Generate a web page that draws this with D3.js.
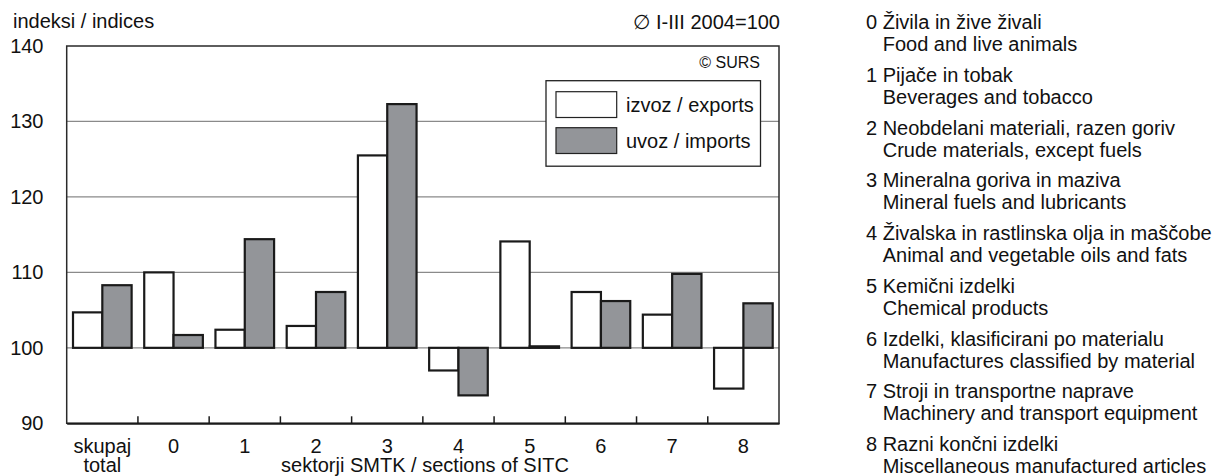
<!DOCTYPE html>
<meta charset="utf-8">
<style>
body { margin: 0; background: #fff; }
svg text { font-family: "Liberation Sans", Arial, sans-serif; fill: #111; }
</style>
<body>
<svg id="chart" width="1217" height="476"></svg>
<script src="https://d3js.org/d3.v7.min.js"></script>
<script>
var categories = ["skupaj|total", "0", "1", "2", "3", "4", "5", "6", "7", "8"];
var exportsIdx = [104.7, 110.0, 102.4, 102.9, 125.5, 97.0, 114.1, 107.4, 104.4, 94.6];
var importsIdx = [108.3, 101.7, 114.4, 107.4, 132.3, 93.7, 100.2, 106.2, 109.8, 105.9];
var seriesNames = ["izvoz / exports", "uvoz / imports"];
var yTicks = [90, 100, 110, 120, 130, 140];
var sections = [
  ["0 Živila in žive živali", "Food and live animals"],
  ["1 Pijače in tobak", "Beverages and tobacco"],
  ["2 Neobdelani materiali, razen goriv", "Crude materials, except fuels"],
  ["3 Mineralna goriva in maziva", "Mineral fuels and lubricants"],
  ["4 Živalska in rastlinska olja in maščobe", "Animal and vegetable oils and fats"],
  ["5 Kemični izdelki", "Chemical products"],
  ["6 Izdelki, klasificirani po materialu", "Manufactures classified by material"],
  ["7 Stroji in transportne naprave", "Machinery and transport equipment"],
  ["8 Razni končni izdelki", "Miscellaneous manufactured articles"]
];

var fills = ["#ffffff", "#939599"];
var fontSize = 20;

// plot box in page pixels
var box = {left: 66.7, right: 779, top: 46, bottom: 423.3};

var svg = d3.select("#chart");

var y = d3.scaleLinear().domain([90, 140]).range([box.bottom, box.top]);
var x0 = d3.scaleBand().domain(categories).range([box.left, box.right]);
var x1 = d3.scaleBand().domain(seriesNames).range([6.3, x0.bandwidth() - 6.3]);

// gridlines
svg.append("g").selectAll("line")
    .data(yTicks.filter(function(d) { return d > 90 && d < 140; }))
  .enter().append("line")
    .attr("x1", box.left).attr("x2", box.right)
    .attr("y1", function(d) { return y(d); })
    .attr("y2", function(d) { return y(d); })
    .attr("stroke", "#8a8a8a")
    .attr("stroke-width", 1.2);

// bars
var rows = categories.map(function(c, i) {
  return { cat: c, vals: [exportsIdx[i], importsIdx[i]] };
});

var groups = svg.append("g").selectAll("g")
    .data(rows)
  .enter().append("g")
    .attr("transform", function(d) { return "translate(" + x0(d.cat) + ",0)"; });

groups.selectAll("rect")
    .data(function(d) { return d.vals.map(function(v, j) { return { s: seriesNames[j], v: v, j: j }; }); })
  .enter().append("rect")
    .attr("x", function(d) { return x1(d.s); })
    .attr("width", x1.bandwidth())
    .attr("y", function(d) { return y(Math.max(d.v, 100)); })
    .attr("height", function(d) { return Math.abs(y(d.v) - y(100)); })
    .attr("fill", function(d) { return fills[d.j]; })
    .attr("stroke", "#1a1a1a")
    .attr("stroke-width", 2.2);

// legend box
var lg = svg.append("g");
lg.append("rect")
    .attr("x", 546).attr("y", 80.7).attr("width", 214.5).attr("height", 85.5)
    .attr("fill", "#fff").attr("stroke", "#222").attr("stroke-width", 1.3);
seriesNames.forEach(function(s, j) {
  lg.append("rect")
      .attr("x", 556).attr("y", 91.7 + j * 36).attr("width", 60.7).attr("height", 25.8)
      .attr("fill", fills[j]).attr("stroke", "#222").attr("stroke-width", 1.2);
  lg.append("text")
      .attr("x", 626).attr("y", 111.5 + j * 36)
      .style("font-size", fontSize + "px")
      .text(s);
});

svg.append("text")
    .attr("x", 760).attr("y", 68)
    .attr("text-anchor", "end")
    .style("font-size", "16px")
    .text("© SURS");

// frame
svg.append("rect")
    .attr("x", box.left).attr("y", box.top)
    .attr("width", box.right - box.left).attr("height", box.bottom - box.top)
    .attr("fill", "none").attr("stroke", "#2a2a2a").attr("stroke-width", 1.5);

// x axis line
var xAxis = d3.axisBottom(x0).tickSize(0).tickFormat("");
svg.append("g")
    .attr("transform", "translate(0," + box.bottom + ")")
    .call(xAxis)
    .call(function(g) { g.select(".domain").attr("stroke", "#1a1a1a").attr("stroke-width", 2); });

// ticks between groups, pointing up
svg.append("g").selectAll("line")
    .data(categories.slice(1))
  .enter().append("line")
    .attr("x1", function(d) { return x0(d); })
    .attr("x2", function(d) { return x0(d); })
    .attr("y1", box.bottom).attr("y2", box.bottom - 7)
    .attr("stroke", "#1a1a1a").attr("stroke-width", 1.5);

svg.append("g").selectAll("text")
    .data(categories)
  .enter().append("text")
    .attr("x", function(d) { return x0(d) + x0.bandwidth() / 2; })
    .attr("y", 453)
    .attr("text-anchor", "middle")
    .style("font-size", fontSize + "px")
    .each(function(d) {
      var parts = d.split("|");
      var t = d3.select(this);
      parts.forEach(function(p, k) {
        t.append("tspan")
            .attr("x", x0(d) + x0.bandwidth() / 2)
            .attr("dy", k === 0 ? 0 : 19)
            .text(p);
      });
    });

// y axis labels
var yAxis = d3.axisLeft(y).tickValues(yTicks).tickSize(0).tickPadding(0);
svg.append("g")
    .attr("transform", "translate(43.5,0)")
    .call(yAxis)
    .call(function(g) { g.select(".domain").remove(); })
    .call(function(g) {
      g.selectAll("text")
          .attr("fill", "#111")
          .style("font-size", fontSize + "px")
          .style("font-family", "'Liberation Sans', Arial, sans-serif");
    });

// titles
svg.append("text")
    .attr("x", 13).attr("y", 28)
    .style("font-size", fontSize + "px")
    .text("indeksi / indices");

svg.append("text")
    .attr("x", 780).attr("y", 29)
    .attr("text-anchor", "end")
    .style("font-size", fontSize + "px")
    .text("∅ I-III 2004=100");

svg.append("text")
    .attr("x", 425).attr("y", 472)
    .attr("text-anchor", "middle")
    .style("font-size", fontSize + "px")
    .text("sektorji SMTK / sections of SITC");

// section key on the right
var key = svg.append("g");
sections.forEach(function(s, i) {
  var by = 29.3 + i * 52.7;
  key.append("text")
      .attr("x", 866).attr("y", by)
      .style("font-size", fontSize + "px")
      .text(s[0]);
  key.append("text")
      .attr("x", 882.7).attr("y", by + 22)
      .style("font-size", fontSize + "px")
      .text(s[1]);
});
</script>
</body>
